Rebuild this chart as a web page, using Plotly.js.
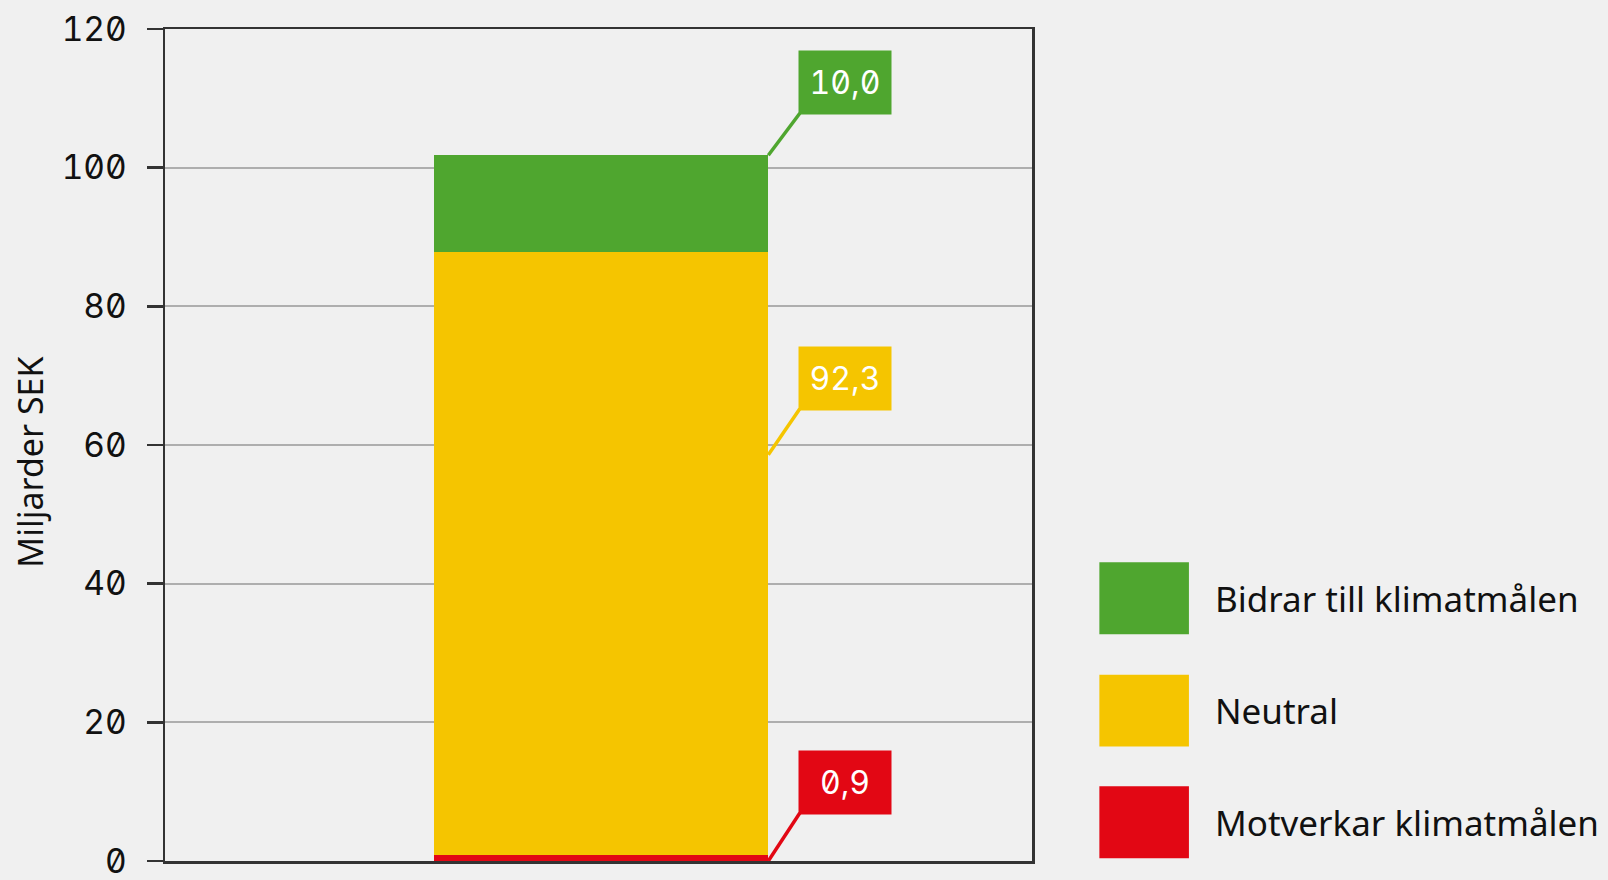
<!DOCTYPE html>
<html>
<head>
<meta charset="utf-8">
<script src="https://cdn.plot.ly/plotly-3.0.1.min.js"></script>
<style>
html,body{margin:0;padding:0;background:#f0f0f0;}
#chart{width:1608px;height:880px;}
.ytick text, .annotation-text {font-feature-settings: "zero" 1, "tnum" 1;}
</style>
</head>
<body>
<div id="chart"></div>
<script>
// Data
const categories = ["Motverkar klimatmålen", "Neutral", "Bidrar till klimatmålen"];
const values = [0.9, 87.0, 13.9];           // drawn bar segment heights
const valueLabels = ["0,9", "92,3", "10,0"]; // printed labels
const colors = ["#E20714", "#F5C500", "#4FA62F"];
const yTicks = [0, 20, 40, 60, 80, 100, 120];
const yTitle = "Miljarder SEK";

const traces = categories.map((c, i) => ({
  type: "bar",
  x: [0],
  y: [values[i]],
  name: c,
  width: 1,
  marker: {color: colors[i], line: {width: 0}},
  hoverinfo: "skip",
  showlegend: false
}));

// label anchor points on bar right edge
const total = values.reduce((a, b) => a + b, 0);
const tipY = [0, 58.6, total];
const tipDY = [46, 44, 40];
const tipDX = 29.5;

const shapes = [];
const annotations = [];
categories.forEach((c, i) => {
  shapes.push({
    type: "line", xref: "x", yref: "y",
    xsizemode: "pixel", ysizemode: "pixel",
    xanchor: 0.5, yanchor: tipY[i],
    x0: 0, x1: tipDX + 2, y0: 0, y1: tipDY[i] + 2,
    line: {color: colors[i], width: 3.5}
  });
  annotations.push({
    x: 0.5, y: tipY[i], xref: "x", yref: "y",
    xanchor: "left", yanchor: "bottom",
    xshift: tipDX, yshift: tipDY[i],
    text: valueLabels[i], showarrow: false,
    bgcolor: colors[i], borderpad: 0, width: 92, height: 63,
    align: "center", valign: "middle",
    font: {family: "Inter", size: 32, color: "#ffffff"}
  });
});

// legend (custom, large swatches)
const legendOrder = [2, 1, 0];
const swTop = [0.359, 0.224, 0.0898];
const swH = 0.0865;
legendOrder.forEach((idx, k) => {
  shapes.push({
    type: "rect", xref: "paper", yref: "paper",
    x0: 1.0777, x1: 1.181, y0: swTop[k] - swH, y1: swTop[k],
    fillcolor: colors[idx], line: {width: 0}
  });
  annotations.push({
    xref: "paper", yref: "paper", x: 1.209, y: swTop[k] - swH / 2,
    xanchor: "left", yanchor: "middle", showarrow: false,
    text: categories[idx],
    font: {family: "Noto Sans", size: 35, color: "#111111"}
  });
});

// y-axis title as rotated annotation
annotations.push({
  xref: "paper", yref: "paper", x: -0.1557, y: 0.48,
  xanchor: "center", yanchor: "middle", showarrow: false,
  textangle: -90, text: yTitle,
  font: {family: "Noto Sans", size: 34, color: "#111111"}
});

const layout = {
  width: 1608, height: 880,
  paper_bgcolor: "#f0f0f0", plot_bgcolor: "#f0f0f0",
  margin: {l: 165, r: 576, t: 29, b: 19, pad: 0},
  barmode: "stack",
  showlegend: false,
  xaxis: {
    range: [-1.303, 1.288], showgrid: false, zeroline: false,
    showticklabels: false, ticks: "",
    showline: true, mirror: true, linecolor: "#333333", linewidth: 2.5
  },
  yaxis: {
    range: [0, 120], tickvals: yTicks, ticktext: yTicks.map(String),
    showgrid: true, gridcolor: "#AEAEAE", gridwidth: 2,
    zeroline: false,
    ticks: "outside", ticklen: 16, tickwidth: 2.5, tickcolor: "#333333",
    ticklabelstandoff: 13, ticklabeloverflow: "allow",
    showline: true, mirror: true, linecolor: "#333333", linewidth: 2.5,
    tickfont: {family: "Inter", size: 33.5, color: "#111111"}
  },
  shapes: shapes,
  annotations: annotations
};

Plotly.newPlot("chart", traces, layout, {displayModeBar: false, staticPlot: true});
</script>
</body>
</html>
